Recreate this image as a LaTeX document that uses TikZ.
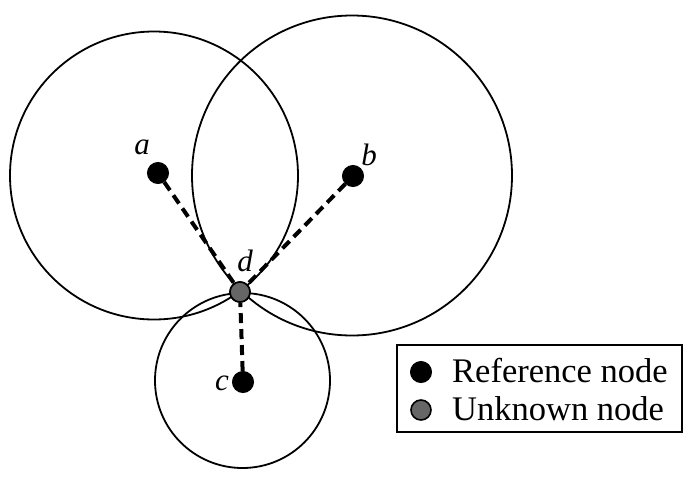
\documentclass[tikz,border=0pt]{standalone}
\usepackage{fontspec}
\setmainfont{Liberation Serif}
\begin{document}
\begin{tikzpicture}[x=1pt,y=-1pt,
  refdot/.style={circle,fill=black,draw=black,line width=1pt,minimum size=21pt,inner sep=0pt},
  unkdot/.style={circle,fill=black!60,draw=black,line width=1.6pt,minimum size=20pt,inner sep=0pt},
  rangecircle/.style={draw=black,line width=1.8pt},
  linkline/.style={draw=black,line width=4pt,dash pattern=on 10pt off 6pt},
  lbl/.style={font=\fontsize{31}{34}\selectfont\itshape,inner sep=0pt},
  legtext/.style={font=\fontsize{34.5}{38}\selectfont,anchor=base west,inner sep=0pt}]
\useasboundingbox (0,0) rectangle (697,477);
% range circles
\draw[rangecircle] (154,175.5) circle[radius=144pt];
\draw[rangecircle] (352,175.5) circle[radius=160pt];
\draw[rangecircle] (242.5,380.5) circle[radius=87.5pt];
% nodes
\node[refdot] (a) at (158,173) {};
\node[refdot] (b) at (353,176) {};
\node[refdot] (c) at (243,382) {};
\node[unkdot] (d) at (240,292) {};
% connectors
\draw[linkline] (a) -- (d);
\draw[linkline] (b) -- (d);
\draw[linkline] (c) -- (d);
\node[unkdot] at (d) {};
% labels
\node[lbl] (la) at (142,147) {a};
\node[lbl] (lb) at (369,155) {b};
\node[lbl] (lc) at (222,383) {c};
\node[lbl] (ld) at (245,261) {d};
% legend
\draw[line width=1.7pt] (397,345) rectangle (682,432);
\node[refdot] (l1) at (421,372) {};
\node[unkdot] (l2) at (421,410) {};
\node[legtext] (t1) at (452,382) {Reference node};
\node[legtext] (t2) at (452,420) {Unknown node};
\end{tikzpicture}
\end{document}
